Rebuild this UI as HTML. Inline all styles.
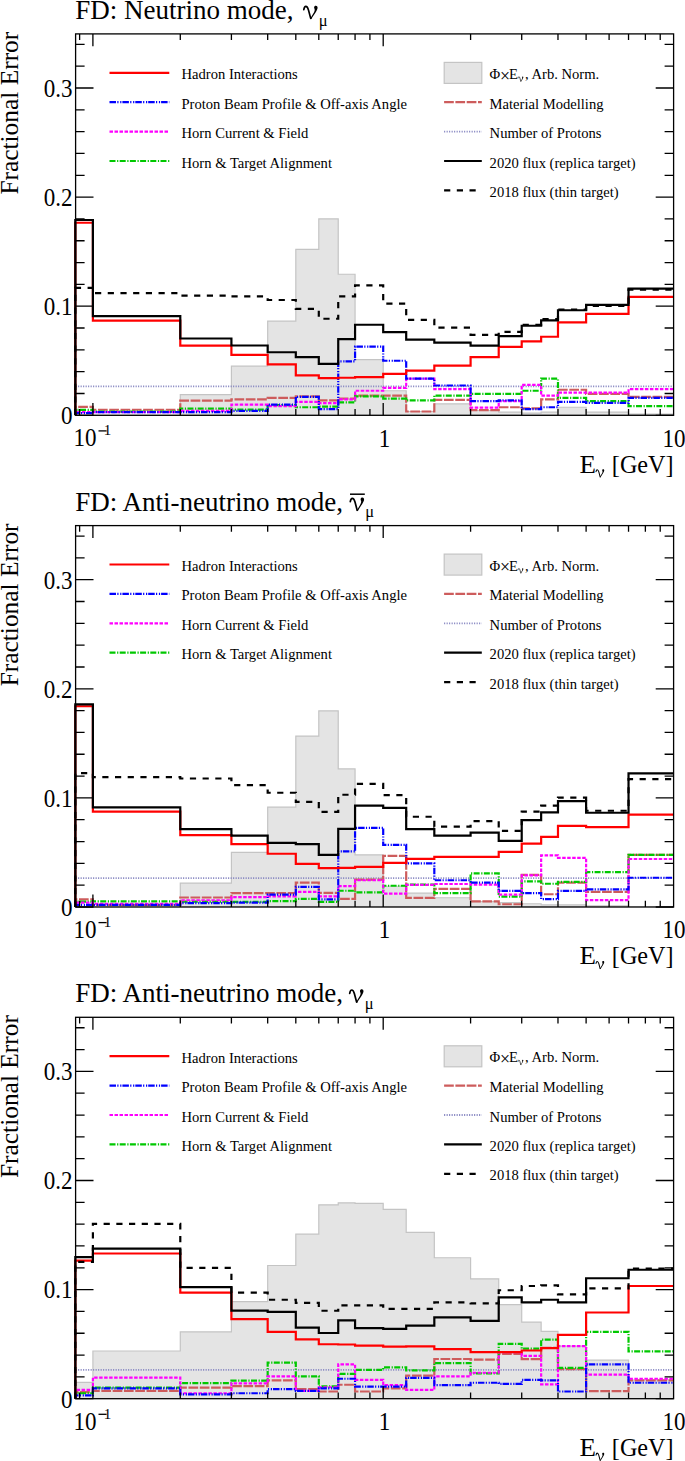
<!DOCTYPE html>
<html><head><meta charset="utf-8"><title>FD flux fractional error</title>
<style>
html,body{margin:0;padding:0;background:#fff;}
body{width:685px;height:1461px;overflow:hidden;position:relative;}
svg{position:absolute;left:0;top:0;display:block;}
text{font-family:"Liberation Serif",serif;fill:#000;}
.lab{font-size:24px;}
.sup{font-size:15px;}
.tit{font-size:25.2px;}
.ytit{font-size:25.4px;}
.sub{font-size:17px;}
.ttl{font-size:27px;}
.nu{font-size:29px;}
.mu{font-size:16.5px;}
.tsub{font-size:18.5px;}
.leg{font-size:14.6px;}
.lsub{font-size:10px;}
</style></head><body>
<svg width="685" height="1461" viewBox="0 0 685 1461">
<defs><g id="nu"><path d="M-7,-9C-6.6,-11.3 -6,-12.3 -5,-12.3C-3.6,-12.3 -2.9,-10.8 -2.3,-8.6L-0.1,-0.3" fill="none" stroke="#000" stroke-width="1.7" stroke-linecap="round"/><path d="M-0.8,0.4L0.6,0.4C2.7,-3.6 6.8,-8.5 6.8,-11C6.8,-12.3 6.1,-13 5.1,-13C4.1,-13 3.3,-12.3 3.3,-11.4C3.3,-10.4 3.9,-9.8 3.9,-8.8C3.9,-7 1.4,-3.6 -0.8,0.4Z" fill="#000"/></g><clipPath id="fr"><rect x="74" y="33.9" width="599.6" height="381.4"/></clipPath></defs>

<g transform="translate(0,0)">
<g clip-path="url(#fr)">
<path d="M75.6,415.3V415.3H92.9V415.3H180.29V394.57H231.41V366.21H267.68V321.15H295.81V249.47H318.8V218.92H338.23V274.23H355.07V359.66H383.2V390.75H406.19V411.48H434.32V403.84H470.59V410.5H498.72V412.03H521.71V413.12H541.14V412.03H557.98V407.23H586.11V412.03H628.53V414.21H673.5V415.3Z" fill="#e4e4e4" stroke="#c4c4c4" stroke-width="1.2"/>
<line x1="75.6" y1="386.39" x2="673.6" y2="386.39" stroke="#8585c0" stroke-width="1.8" stroke-dasharray="1.1 1.4"/>
<path d="M75.3,415.3V406.9H92.9V409.74H180.29V400.68H231.41V399.37H267.68V397.95H295.81V396.32H318.8V400.35H338.23V398.72H355.07V395.66H383.2V395.66H406.19V411.48H434.32V399.92H470.59V410.06H498.72V407.23H521.71V408.43H541.14V399.37H557.98V389.77H586.11V393.92H628.53V396.97H673.5" fill="none" stroke="#cd5c5c" stroke-width="2.2" stroke-dasharray="9.7 1.6"/>
<path d="M75.3,415.3V409.85H92.9V411.59H180.29V408.54H231.41V409.63H267.68V405.15H295.81V407.23H318.8V406.68H338.23V402.32H355.07V396.32H383.2V398.72H406.19V400.35H434.32V395.66H470.59V393.92H498.72V393.92H521.71V390.75H541.14V378.64H557.98V397.95H586.11V401.12H628.53V406.03H673.5" fill="none" stroke="#00c800" stroke-width="2.2" stroke-dasharray="6 1.6 1.2 1.4"/>
<path d="M75.3,415.3V412.03H92.9V412.03H180.29V410.94H231.41V404.72H267.68V406.03H295.81V401.88H318.8V403.08H338.23V399.37H355.07V390.75H383.2V387.92H406.19V378.64H434.32V389.12H470.59V407.55H498.72V401.12H521.71V384.97H541.14V395.66H557.98V392.72H586.11V392.72H628.53V389.12H673.5" fill="none" stroke="#ff00ff" stroke-width="2.2" stroke-dasharray="3.5 1.5"/>
<path d="M75.3,415.3V413.12H92.9V412.03H180.29V412.03H231.41V410.83H267.68V404.72H295.81V396.97H318.8V409.08H338.23V361.4H355.07V346.57H383.2V360.75H406.19V378.64H434.32V385.52H470.59V401.12H498.72V400.35H521.71V409.08H541.14V407.23H557.98V401.88H586.11V402.86H628.53V397.95H673.5" fill="none" stroke="#0000ff" stroke-width="2.2" stroke-dasharray="6.5 1.3 1.2 1.7 1.2 1"/>
<path d="M75.3,415.3V222.74H92.9V320.71H180.29V345.69H231.41V354.86H267.68V364.46H295.81V375.37H318.8V378.21H338.23V377.77H355.07V377.12H383.2V373.84H406.19V370.57H434.32V365.66H470.59V357.04H498.72V346.89H521.71V341.44H541.14V336.75H557.98V322.35H586.11V313.84H628.53V296.82H673.5" fill="none" stroke="#ff0000" stroke-width="2.2"/>
<path d="M75.3,415.3V287.87H92.9V293.11H180.29V295.62H231.41V296.38H267.68V299.98H295.81V308.93H318.8V318.75H338.23V296.38H355.07V285.47H383.2V303.58H406.19V319.95H434.32V327.69H470.59V334.89H498.72V331.95H521.71V324.75H541.14V319.18H557.98V309.58H586.11V305.98H628.53V289.62H673.5" fill="none" stroke="#000000" stroke-width="2.2" stroke-dasharray="6.2 6.5"/>
<path d="M75.3,415.3V220.01H92.9V316.13H180.29V338.49H231.41V345.48H267.68V352.24H295.81V357.04H318.8V363.8H338.23V339.15H355.07V324.75H383.2V332.17H406.19V339.69H434.32V342.53H470.59V345.69H498.72V336.09H521.71V325.73H541.14V320.38H557.98V310.24H586.11V304.78H628.53V288.63H673.5" fill="none" stroke="#000000" stroke-width="2.2"/>
</g>
<rect x="75.6" y="33.9" width="598" height="381.4" fill="none" stroke="#000" stroke-width="1.3"/>
<path d="M75.6,415.3h17.9M673.6,415.3h-17.9M75.6,393.48h9M673.6,393.48h-9M75.6,371.66h9M673.6,371.66h-9M75.6,349.84h9M673.6,349.84h-9M75.6,328.02h9M673.6,328.02h-9M75.6,306.2h17.9M673.6,306.2h-17.9M75.6,284.38h9M673.6,284.38h-9M75.6,262.56h9M673.6,262.56h-9M75.6,240.74h9M673.6,240.74h-9M75.6,218.92h9M673.6,218.92h-9M75.6,197.1h17.9M673.6,197.1h-17.9M75.6,175.28h9M673.6,175.28h-9M75.6,153.46h9M673.6,153.46h-9M75.6,131.64h9M673.6,131.64h-9M75.6,109.82h9M673.6,109.82h-9M75.6,88h17.9M673.6,88h-17.9M75.6,66.18h9M673.6,66.18h-9M75.6,44.36h9M673.6,44.36h-9M79.62,415.3v-6.2M79.62,33.9v6.2M92.9,415.3v-12.4M92.9,33.9v12.4M180.29,415.3v-6.2M180.29,33.9v6.2M231.41,415.3v-6.2M231.41,33.9v6.2M267.68,415.3v-6.2M267.68,33.9v6.2M295.81,415.3v-6.2M295.81,33.9v6.2M318.8,415.3v-6.2M318.8,33.9v6.2M338.23,415.3v-6.2M338.23,33.9v6.2M355.07,415.3v-6.2M355.07,33.9v6.2M369.92,415.3v-6.2M369.92,33.9v6.2M383.2,415.3v-12.4M383.2,33.9v12.4M470.59,415.3v-6.2M470.59,33.9v6.2M521.71,415.3v-6.2M521.71,33.9v6.2M557.98,415.3v-6.2M557.98,33.9v6.2M586.11,415.3v-6.2M586.11,33.9v6.2M609.1,415.3v-6.2M609.1,33.9v6.2M628.53,415.3v-6.2M628.53,33.9v6.2M645.37,415.3v-6.2M645.37,33.9v6.2M660.22,415.3v-6.2M660.22,33.9v6.2" stroke="#000" stroke-width="1.3" fill="none"/>
<text transform="translate(72.6,424.1) scale(0.96,1.06)" class="lab" text-anchor="end">0</text>
<text transform="translate(72.6,315) scale(0.96,1.06)" class="lab" text-anchor="end">0.1</text>
<text transform="translate(72.6,205.9) scale(0.96,1.06)" class="lab" text-anchor="end">0.2</text>
<text transform="translate(72.6,96.8) scale(0.96,1.06)" class="lab" text-anchor="end">0.3</text>
<text transform="translate(73.6,446.2) scale(0.96,1.06)" class="lab">10</text>
<line x1="98.5" y1="430.9" x2="106.6" y2="430.9" stroke="#000" stroke-width="1.3"/>
<text x="103.8" y="435.2" class="sup">1</text>
<text transform="translate(384.4,446.5) scale(0.96,1.06)" class="lab" text-anchor="middle">1</text>
<text transform="translate(674.0,446.5) scale(0.96,1.06)" class="lab" text-anchor="middle">10</text>
<text transform="translate(579.4,472.6) scale(1.07,1)" class="tit">E</text>
<use href="#nu" transform="translate(600.2,477.1) scale(0.6)"/>
<text transform="translate(673.6,472.6) scale(0.96,1)" class="tit" text-anchor="end">[GeV]</text>
<text transform="translate(18.4,194.6) rotate(-90)" class="ytit">Fractional Error</text>
<text x="75.3" y="18.8" class="ttl">FD: Neutrino mode,</text>
<use href="#nu" transform="translate(310.8,18.7)"/>
<text x="318.8" y="25.7" class="mu">&#956;</text>
<line x1="109.5" y1="72.8" x2="169.3" y2="72.8" stroke="#ff0000" stroke-width="2.2"/>
<text x="181.5" y="79.4" class="leg">Hadron Interactions</text>
<line x1="109.5" y1="102.2" x2="169.3" y2="102.2" stroke="#0000ff" stroke-width="2.2" stroke-dasharray="6.5 1.3 1.2 1.7 1.2 1"/>
<text x="181.5" y="108.8" class="leg">Proton Beam Profile &amp; Off-axis Angle</text>
<line x1="109.5" y1="131.6" x2="169.3" y2="131.6" stroke="#ff00ff" stroke-width="2.2" stroke-dasharray="3.5 1.5"/>
<text x="181.5" y="138.2" class="leg">Horn Current &amp; Field</text>
<line x1="109.5" y1="161" x2="169.3" y2="161" stroke="#00c800" stroke-width="2.2" stroke-dasharray="6 1.6 1.2 1.4"/>
<text x="181.5" y="167.6" class="leg">Horn &amp; Target Alignment</text>
<rect x="444.2" y="62.4" width="37.6" height="21" fill="#e4e4e4" stroke="#c4c4c4" stroke-width="1.2"/>
<text x="489.6" y="79.1" class="leg">&#934;</text>
<text x="500" y="81.5" class="leg" style="font-size:17.8px">&#215;</text>
<text x="509" y="79.1" class="leg">E</text>
<use href="#nu" transform="translate(520.8,81.4) scale(0.38)"/>
<text x="525" y="79.1" class="leg">, Arb. Norm.</text>
<line x1="444.1" y1="102.2" x2="481.8" y2="102.2" stroke="#cd5c5c" stroke-width="2.2" stroke-dasharray="9.7 1.6"/>
<text x="489.6" y="108.8" class="leg">Material Modelling</text>
<line x1="444.1" y1="131.6" x2="481.8" y2="131.6" stroke="#8585c0" stroke-width="1.8" stroke-dasharray="1.1 1.4"/>
<text x="489.6" y="138.2" class="leg">Number of Protons</text>
<line x1="444.1" y1="161" x2="481.8" y2="161" stroke="#000000" stroke-width="2.2"/>
<text x="489.6" y="167.6" class="leg">2020 flux (replica target)</text>
<line x1="444.1" y1="190.4" x2="481.8" y2="190.4" stroke="#000000" stroke-width="2.2" stroke-dasharray="6.2 6.5"/>
<text x="489.6" y="197" class="leg">2018 flux (thin target)</text>
</g>
<g transform="translate(0,491.7)">
<g clip-path="url(#fr)">
<path d="M75.6,415.3V415.3H92.9V415.3H180.29V391.41H231.41V360.75H267.68V315.47H295.81V244.34H318.8V219.14H338.23V277.18H355.07V363.15H383.2V394.57H406.19V401.44H434.32V406.03H470.59V409.85H498.72V410.94H521.71V412.03H541.14V413.12H557.98V413.12H586.11V414.21H628.53V415.3H673.5V415.3Z" fill="#e4e4e4" stroke="#c4c4c4" stroke-width="1.2"/>
<line x1="75.6" y1="386.39" x2="673.6" y2="386.39" stroke="#8585c0" stroke-width="1.8" stroke-dasharray="1.1 1.4"/>
<path d="M75.3,415.3V407.66H92.9V413.12H180.29V405.81H231.41V401.34H267.68V401.34H295.81V390.86H318.8V401.12H338.23V407.12H355.07V387.92H383.2V364.24H406.19V406.14H434.32V397.19H470.59V409.74H498.72V412.57H521.71V383.22H541.14V402.54H557.98V390.86H586.11V400.14H628.53V363.15H673.5" fill="none" stroke="#cd5c5c" stroke-width="2.2" stroke-dasharray="9.7 1.6"/>
<path d="M75.3,415.3V409.85H92.9V409.63H180.29V409.85H231.41V410.17H267.68V409.41H295.81V407.23H318.8V410.17H338.23V399.04H355.07V400.68H383.2V394.03H406.19V392.93H434.32V401.34H470.59V381.7H498.72V404.94H521.71V389.66H541.14V392.06H557.98V390.21H586.11V380.5H628.53V363.15H673.5" fill="none" stroke="#00c800" stroke-width="2.2" stroke-dasharray="6 1.6 1.2 1.4"/>
<path d="M75.3,415.3V410.94H92.9V412.03H180.29V408.54H231.41V405.37H267.68V404.61H295.81V400.14H318.8V404.61H338.23V394.35H355.07V388.57H383.2V401.99H406.19V393.15H434.32V392.28H470.59V392.83H498.72V402.86H521.71V383.66H541.14V363.7H557.98V366.1H586.11V408.43H628.53V367.3H673.5" fill="none" stroke="#ff00ff" stroke-width="2.2" stroke-dasharray="3.5 1.5"/>
<path d="M75.3,415.3V413.12H92.9V413.12H180.29V411.37H231.41V410.94H267.68V402.86H295.81V395.23H318.8V407.77H338.23V359.66H355.07V336.2H383.2V353.11H406.19V371.66H434.32V388.57H470.59V390.86H498.72V399.26H521.71V401.34H541.14V407.34H557.98V399.26H586.11V397.63H628.53V386.06H673.5" fill="none" stroke="#0000ff" stroke-width="2.2" stroke-dasharray="6.5 1.3 1.2 1.7 1.2 1"/>
<path d="M75.3,415.3V214.56H92.9V319.84H180.29V343.4H231.41V352.35H267.68V362.06H295.81V372.1H318.8V376.35H338.23V376.24H355.07V375.15H383.2V371.22H406.19V367.08H434.32V365.11H470.59V365.11H498.72V360.1H521.71V351.91H541.14V345.15H557.98V334.24H586.11V335.44H628.53V323H673.5" fill="none" stroke="#ff0000" stroke-width="2.2"/>
<path d="M75.3,415.3V281.33H92.9V285.47H180.29V286.78H231.41V293.33H267.68V301.07H295.81V310.24H318.8V320.27H338.23V303.04H355.07V292.13H383.2V303.47H406.19V325.07H434.32V335H470.59V329.44H498.72V339.15H521.71V319.84H541.14V313.84H557.98V305.87H586.11V319.07H628.53V287.33H673.5" fill="none" stroke="#000000" stroke-width="2.2" stroke-dasharray="6.2 6.5"/>
<path d="M75.3,415.3V212.7H92.9V315.69H180.29V337.4H231.41V343.84H267.68V351.15H295.81V352.35H318.8V363.15H338.23V337.18H355.07V313.84H383.2V316.24H406.19V337.4H434.32V343.84H470.59V341H498.72V349.19H521.71V328.35H541.14V320.6H557.98V309.47H586.11V321.04H628.53V281.76H673.5" fill="none" stroke="#000000" stroke-width="2.2"/>
</g>
<rect x="75.6" y="33.9" width="598" height="381.4" fill="none" stroke="#000" stroke-width="1.3"/>
<path d="M75.6,415.3h17.9M673.6,415.3h-17.9M75.6,393.48h9M673.6,393.48h-9M75.6,371.66h9M673.6,371.66h-9M75.6,349.84h9M673.6,349.84h-9M75.6,328.02h9M673.6,328.02h-9M75.6,306.2h17.9M673.6,306.2h-17.9M75.6,284.38h9M673.6,284.38h-9M75.6,262.56h9M673.6,262.56h-9M75.6,240.74h9M673.6,240.74h-9M75.6,218.92h9M673.6,218.92h-9M75.6,197.1h17.9M673.6,197.1h-17.9M75.6,175.28h9M673.6,175.28h-9M75.6,153.46h9M673.6,153.46h-9M75.6,131.64h9M673.6,131.64h-9M75.6,109.82h9M673.6,109.82h-9M75.6,88h17.9M673.6,88h-17.9M75.6,66.18h9M673.6,66.18h-9M75.6,44.36h9M673.6,44.36h-9M79.62,415.3v-6.2M79.62,33.9v6.2M92.9,415.3v-12.4M92.9,33.9v12.4M180.29,415.3v-6.2M180.29,33.9v6.2M231.41,415.3v-6.2M231.41,33.9v6.2M267.68,415.3v-6.2M267.68,33.9v6.2M295.81,415.3v-6.2M295.81,33.9v6.2M318.8,415.3v-6.2M318.8,33.9v6.2M338.23,415.3v-6.2M338.23,33.9v6.2M355.07,415.3v-6.2M355.07,33.9v6.2M369.92,415.3v-6.2M369.92,33.9v6.2M383.2,415.3v-12.4M383.2,33.9v12.4M470.59,415.3v-6.2M470.59,33.9v6.2M521.71,415.3v-6.2M521.71,33.9v6.2M557.98,415.3v-6.2M557.98,33.9v6.2M586.11,415.3v-6.2M586.11,33.9v6.2M609.1,415.3v-6.2M609.1,33.9v6.2M628.53,415.3v-6.2M628.53,33.9v6.2M645.37,415.3v-6.2M645.37,33.9v6.2M660.22,415.3v-6.2M660.22,33.9v6.2" stroke="#000" stroke-width="1.3" fill="none"/>
<text transform="translate(72.6,424.1) scale(0.96,1.06)" class="lab" text-anchor="end">0</text>
<text transform="translate(72.6,315) scale(0.96,1.06)" class="lab" text-anchor="end">0.1</text>
<text transform="translate(72.6,205.9) scale(0.96,1.06)" class="lab" text-anchor="end">0.2</text>
<text transform="translate(72.6,96.8) scale(0.96,1.06)" class="lab" text-anchor="end">0.3</text>
<text transform="translate(73.6,446.2) scale(0.96,1.06)" class="lab">10</text>
<line x1="98.5" y1="430.9" x2="106.6" y2="430.9" stroke="#000" stroke-width="1.3"/>
<text x="103.8" y="435.2" class="sup">1</text>
<text transform="translate(384.4,446.5) scale(0.96,1.06)" class="lab" text-anchor="middle">1</text>
<text transform="translate(674.0,446.5) scale(0.96,1.06)" class="lab" text-anchor="middle">10</text>
<text transform="translate(579.4,472.6) scale(1.07,1)" class="tit">E</text>
<use href="#nu" transform="translate(600.2,477.1) scale(0.6)"/>
<text transform="translate(673.6,472.6) scale(0.96,1)" class="tit" text-anchor="end">[GeV]</text>
<text transform="translate(18.4,194.6) rotate(-90)" class="ytit">Fractional Error</text>
<text x="75.3" y="18.8" class="ttl">FD: Anti-neutrino mode,</text>
<use href="#nu" transform="translate(357.3,18.9)"/>
<text x="365.3" y="25.7" class="mu">&#956;</text>
<line x1="350" y1="2.5" x2="364.8" y2="2.5" stroke="#000" stroke-width="1.5"/>
<line x1="109.5" y1="72.8" x2="169.3" y2="72.8" stroke="#ff0000" stroke-width="2.2"/>
<text x="181.5" y="79.4" class="leg">Hadron Interactions</text>
<line x1="109.5" y1="102.2" x2="169.3" y2="102.2" stroke="#0000ff" stroke-width="2.2" stroke-dasharray="6.5 1.3 1.2 1.7 1.2 1"/>
<text x="181.5" y="108.8" class="leg">Proton Beam Profile &amp; Off-axis Angle</text>
<line x1="109.5" y1="131.6" x2="169.3" y2="131.6" stroke="#ff00ff" stroke-width="2.2" stroke-dasharray="3.5 1.5"/>
<text x="181.5" y="138.2" class="leg">Horn Current &amp; Field</text>
<line x1="109.5" y1="161" x2="169.3" y2="161" stroke="#00c800" stroke-width="2.2" stroke-dasharray="6 1.6 1.2 1.4"/>
<text x="181.5" y="167.6" class="leg">Horn &amp; Target Alignment</text>
<rect x="444.2" y="62.4" width="37.6" height="21" fill="#e4e4e4" stroke="#c4c4c4" stroke-width="1.2"/>
<text x="489.6" y="79.1" class="leg">&#934;</text>
<text x="500" y="81.5" class="leg" style="font-size:17.8px">&#215;</text>
<text x="509" y="79.1" class="leg">E</text>
<use href="#nu" transform="translate(520.8,81.4) scale(0.38)"/>
<text x="525" y="79.1" class="leg">, Arb. Norm.</text>
<line x1="444.1" y1="102.2" x2="481.8" y2="102.2" stroke="#cd5c5c" stroke-width="2.2" stroke-dasharray="9.7 1.6"/>
<text x="489.6" y="108.8" class="leg">Material Modelling</text>
<line x1="444.1" y1="131.6" x2="481.8" y2="131.6" stroke="#8585c0" stroke-width="1.8" stroke-dasharray="1.1 1.4"/>
<text x="489.6" y="138.2" class="leg">Number of Protons</text>
<line x1="444.1" y1="161" x2="481.8" y2="161" stroke="#000000" stroke-width="2.2"/>
<text x="489.6" y="167.6" class="leg">2020 flux (replica target)</text>
<line x1="444.1" y1="190.4" x2="481.8" y2="190.4" stroke="#000000" stroke-width="2.2" stroke-dasharray="6.2 6.5"/>
<text x="489.6" y="197" class="leg">2018 flux (thin target)</text>
</g>
<g transform="translate(0,983.4)">
<g clip-path="url(#fr)">
<path d="M75.6,415.3V398.94H92.9V367.62H180.29V348.42H231.41V318.2H267.68V282.09H295.81V250.78H318.8V221.43H338.23V219.47H355.07V220.01H383.2V226.01H406.19V248.92H434.32V274.34H470.59V295.4H498.72V321.15H521.71V338.71H541.14V347.88H557.98V362.82H586.11V376.79H628.53V396.75H673.5V415.3Z" fill="#e4e4e4" stroke="#c4c4c4" stroke-width="1.2"/>
<line x1="75.6" y1="386.39" x2="673.6" y2="386.39" stroke="#8585c0" stroke-width="1.8" stroke-dasharray="1.1 1.4"/>
<path d="M75.3,415.3V408.75H92.9V407.44H180.29V404.17H231.41V402.64H267.68V396.97H295.81V405.7H318.8V408.1H338.23V401.34H355.07V408.1H383.2V405.04H406.19V392.17H434.32V375.59H470.59V376.13H498.72V370.46H521.71V375.81H541.14V364.46H557.98V385.73H586.11V407.77H628.53V396.97H673.5" fill="none" stroke="#cd5c5c" stroke-width="2.2" stroke-dasharray="9.7 1.6"/>
<path d="M75.3,415.3V409.85H92.9V404.17H180.29V399.7H231.41V397.19H267.68V379.19H295.81V392.93H318.8V402.97H338.23V390.53H355.07V386.39H383.2V383.99H406.19V386.93H434.32V379.73H470.59V389.99H498.72V360.42H521.71V365.22H541.14V356.28H557.98V384.53H586.11V348.42H628.53V368.06H673.5" fill="none" stroke="#00c800" stroke-width="2.2" stroke-dasharray="6 1.6 1.2 1.4"/>
<path d="M75.3,415.3V406.57H92.9V394.13H180.29V409.85H231.41V400.03H267.68V392.93H295.81V407.44H318.8V403.84H338.23V380.93H355.07V396.53H383.2V401.77H406.19V406.57H434.32V392.93H470.59V389.33H498.72V368.82H521.71V372.42H541.14V400.9H557.98V362.82H586.11V391.19H628.53V395.33H673.5" fill="none" stroke="#ff00ff" stroke-width="2.2" stroke-dasharray="3.5 1.5"/>
<path d="M75.3,415.3V412.03H92.9V404.94H180.29V410.94H231.41V409.85H267.68V405.7H295.81V407.44H318.8V404.94H338.23V395.33H355.07V403.3H383.2V403.3H406.19V394.57H434.32V401.77H470.59V399.37H498.72V400.57H521.71V396.53H541.14V396.97H557.98V408.1H586.11V380.93H628.53V399.37H673.5" fill="none" stroke="#0000ff" stroke-width="2.2" stroke-dasharray="6.5 1.3 1.2 1.7 1.2 1"/>
<path d="M75.3,415.3V277.29H92.9V270.09H180.29V309.15H231.41V335.77H267.68V348.42H295.81V356.06H318.8V360.86H338.23V361.08H355.07V362.28H383.2V363.26H406.19V362.93H434.32V365.66H470.59V368.82H498.72V368.82H521.71V367.08H541.14V364.68H557.98V351.48H586.11V329.11H628.53V302.6H673.5" fill="none" stroke="#ff0000" stroke-width="2.2"/>
<path d="M75.3,415.3V278.49H92.9V240.41H180.29V284.49H231.41V309.25H267.68V316.35H295.81V319.4H318.8V327.37H338.23V321.91H355.07V321.91H383.2V325.51H406.19V325.51H434.32V318.96H470.59V319.95H498.72V306.85H521.71V302.6H541.14V301.95H557.98V311H586.11V305H628.53V285.14H673.5" fill="none" stroke="#000000" stroke-width="2.2" stroke-dasharray="6.2 6.5"/>
<path d="M75.3,415.3V273.69H92.9V265.18H180.29V303.8H231.41V327.26H267.68V328.57H295.81V344.28H318.8V349.62H338.23V336.97H355.07V344.71H383.2V345.48H406.19V342.31H434.32V333.91H470.59V337.51H498.72V314.06H521.71V318.96H541.14V316.35H557.98V318.96H586.11V294.85H628.53V286.34H673.5" fill="none" stroke="#000000" stroke-width="2.2"/>
</g>
<rect x="75.6" y="33.9" width="598" height="381.4" fill="none" stroke="#000" stroke-width="1.3"/>
<path d="M75.6,415.3h17.9M673.6,415.3h-17.9M75.6,393.48h9M673.6,393.48h-9M75.6,371.66h9M673.6,371.66h-9M75.6,349.84h9M673.6,349.84h-9M75.6,328.02h9M673.6,328.02h-9M75.6,306.2h17.9M673.6,306.2h-17.9M75.6,284.38h9M673.6,284.38h-9M75.6,262.56h9M673.6,262.56h-9M75.6,240.74h9M673.6,240.74h-9M75.6,218.92h9M673.6,218.92h-9M75.6,197.1h17.9M673.6,197.1h-17.9M75.6,175.28h9M673.6,175.28h-9M75.6,153.46h9M673.6,153.46h-9M75.6,131.64h9M673.6,131.64h-9M75.6,109.82h9M673.6,109.82h-9M75.6,88h17.9M673.6,88h-17.9M75.6,66.18h9M673.6,66.18h-9M75.6,44.36h9M673.6,44.36h-9M79.62,415.3v-6.2M79.62,33.9v6.2M92.9,415.3v-12.4M92.9,33.9v12.4M180.29,415.3v-6.2M180.29,33.9v6.2M231.41,415.3v-6.2M231.41,33.9v6.2M267.68,415.3v-6.2M267.68,33.9v6.2M295.81,415.3v-6.2M295.81,33.9v6.2M318.8,415.3v-6.2M318.8,33.9v6.2M338.23,415.3v-6.2M338.23,33.9v6.2M355.07,415.3v-6.2M355.07,33.9v6.2M369.92,415.3v-6.2M369.92,33.9v6.2M383.2,415.3v-12.4M383.2,33.9v12.4M470.59,415.3v-6.2M470.59,33.9v6.2M521.71,415.3v-6.2M521.71,33.9v6.2M557.98,415.3v-6.2M557.98,33.9v6.2M586.11,415.3v-6.2M586.11,33.9v6.2M609.1,415.3v-6.2M609.1,33.9v6.2M628.53,415.3v-6.2M628.53,33.9v6.2M645.37,415.3v-6.2M645.37,33.9v6.2M660.22,415.3v-6.2M660.22,33.9v6.2" stroke="#000" stroke-width="1.3" fill="none"/>
<text transform="translate(72.6,424.1) scale(0.96,1.06)" class="lab" text-anchor="end">0</text>
<text transform="translate(72.6,315) scale(0.96,1.06)" class="lab" text-anchor="end">0.1</text>
<text transform="translate(72.6,205.9) scale(0.96,1.06)" class="lab" text-anchor="end">0.2</text>
<text transform="translate(72.6,96.8) scale(0.96,1.06)" class="lab" text-anchor="end">0.3</text>
<text transform="translate(73.6,446.2) scale(0.96,1.06)" class="lab">10</text>
<line x1="98.5" y1="430.9" x2="106.6" y2="430.9" stroke="#000" stroke-width="1.3"/>
<text x="103.8" y="435.2" class="sup">1</text>
<text transform="translate(384.4,446.5) scale(0.96,1.06)" class="lab" text-anchor="middle">1</text>
<text transform="translate(674.0,446.5) scale(0.96,1.06)" class="lab" text-anchor="middle">10</text>
<text transform="translate(579.4,472.6) scale(1.07,1)" class="tit">E</text>
<use href="#nu" transform="translate(600.2,477.1) scale(0.6)"/>
<text transform="translate(673.6,472.6) scale(0.96,1)" class="tit" text-anchor="end">[GeV]</text>
<text transform="translate(18.4,194.6) rotate(-90)" class="ytit">Fractional Error</text>
<text x="75.3" y="18.8" class="ttl">FD: Anti-neutrino mode,</text>
<use href="#nu" transform="translate(356.7,18.9)"/>
<text x="364.7" y="25.7" class="mu">&#956;</text>
<line x1="109.5" y1="72.8" x2="169.3" y2="72.8" stroke="#ff0000" stroke-width="2.2"/>
<text x="181.5" y="79.4" class="leg">Hadron Interactions</text>
<line x1="109.5" y1="102.2" x2="169.3" y2="102.2" stroke="#0000ff" stroke-width="2.2" stroke-dasharray="6.5 1.3 1.2 1.7 1.2 1"/>
<text x="181.5" y="108.8" class="leg">Proton Beam Profile &amp; Off-axis Angle</text>
<line x1="109.5" y1="131.6" x2="169.3" y2="131.6" stroke="#ff00ff" stroke-width="2.2" stroke-dasharray="3.5 1.5"/>
<text x="181.5" y="138.2" class="leg">Horn Current &amp; Field</text>
<line x1="109.5" y1="161" x2="169.3" y2="161" stroke="#00c800" stroke-width="2.2" stroke-dasharray="6 1.6 1.2 1.4"/>
<text x="181.5" y="167.6" class="leg">Horn &amp; Target Alignment</text>
<rect x="444.2" y="62.4" width="37.6" height="21" fill="#e4e4e4" stroke="#c4c4c4" stroke-width="1.2"/>
<text x="489.6" y="79.1" class="leg">&#934;</text>
<text x="500" y="81.5" class="leg" style="font-size:17.8px">&#215;</text>
<text x="509" y="79.1" class="leg">E</text>
<use href="#nu" transform="translate(520.8,81.4) scale(0.38)"/>
<text x="525" y="79.1" class="leg">, Arb. Norm.</text>
<line x1="444.1" y1="102.2" x2="481.8" y2="102.2" stroke="#cd5c5c" stroke-width="2.2" stroke-dasharray="9.7 1.6"/>
<text x="489.6" y="108.8" class="leg">Material Modelling</text>
<line x1="444.1" y1="131.6" x2="481.8" y2="131.6" stroke="#8585c0" stroke-width="1.8" stroke-dasharray="1.1 1.4"/>
<text x="489.6" y="138.2" class="leg">Number of Protons</text>
<line x1="444.1" y1="161" x2="481.8" y2="161" stroke="#000000" stroke-width="2.2"/>
<text x="489.6" y="167.6" class="leg">2020 flux (replica target)</text>
<line x1="444.1" y1="190.4" x2="481.8" y2="190.4" stroke="#000000" stroke-width="2.2" stroke-dasharray="6.2 6.5"/>
<text x="489.6" y="197" class="leg">2018 flux (thin target)</text>
</g>
</svg></body></html>
